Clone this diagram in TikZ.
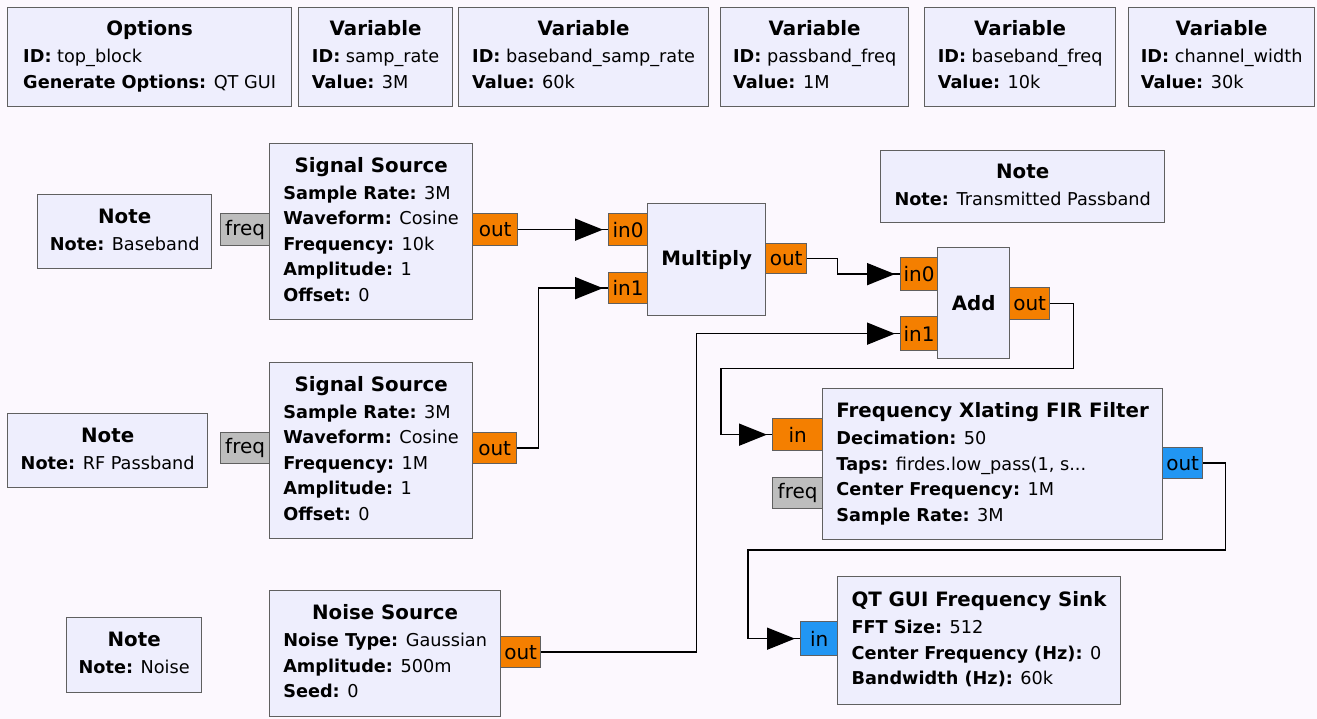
\documentclass[tikz,border=0pt]{standalone}
\usepackage{fontspec}
\setmainfont{DejaVu Sans}
\usepackage{tikz}
\usetikzlibrary{arrows.meta, calc}
\definecolor{canvasbg}{HTML}{FCF8FE}
\definecolor{blkfill}{HTML}{EEEEFD}
\definecolor{blkedge}{HTML}{606060}
\definecolor{portorange}{HTML}{F47F00}
\definecolor{portblue}{HTML}{2196F3}
\definecolor{portgray}{HTML}{BDBDBD}
\newcommand{\grcfont}{\fontsize{17.7}{25.5}\selectfont}
\newcommand{\grctitle}[1]{{\fontsize{19.8}{25.5}\selectfont\textbf{#1}}}
\newcommand{\kv}[2]{\textbf{#1:} #2}
\newcommand{\grcblock}[2]{\begin{tabular}{@{}l@{}}\multicolumn{1}{@{}c@{}}{\grctitle{#1}}\\[1.5pt] #2\end{tabular}}
\tikzset{
  blk/.style={draw=blkedge, line width=1.3pt, fill=blkfill, anchor=north west, inner sep=0pt, align=center, font=\grcfont},
  port/.style={draw=blkedge, line width=1.3pt, anchor=north west, inner sep=0pt, font=\fontsize{20}{24}\selectfont},
  fport/.style={port, fill=portorange},
  cport/.style={port, fill=portblue},
  mport/.style={port, fill=portgray},
  wire/.style={line width=1.5pt, -{Triangle[length=28pt, width=22pt]Rectangle[length=5pt, width=1.5pt, line width=0pt]}},
}
\begin{document}
\begin{tikzpicture}[x=1pt, y=-1pt]
  \fill[canvasbg] (0,0) rectangle (1317,719);
  \useasboundingbox (0,0) rectangle (1317,719);

  % top row: options and variables
  \node[blk, minimum width=284pt, minimum height=99pt] (opts) at (7,7)
    {\grcblock{Options}{\kv{ID}{top\_block}\\ \kv{Generate Options}{QT GUI}}};
  \node[blk, minimum width=154pt, minimum height=99pt] (vsamp) at (298,7)
    {\grcblock{Variable}{\kv{ID}{samp\_rate}\\ \kv{Value}{3M}}};
  \node[blk, minimum width=250pt, minimum height=99pt] (vbbsamp) at (458,7)
    {\grcblock{Variable}{\kv{ID}{baseband\_samp\_rate}\\ \kv{Value}{60k}}};
  \node[blk, minimum width=188pt, minimum height=99pt] (vpbfreq) at (720,7)
    {\grcblock{Variable}{\kv{ID}{passband\_freq}\\ \kv{Value}{1M}}};
  \node[blk, minimum width=191pt, minimum height=99pt] (vbbfreq) at (924,7)
    {\grcblock{Variable}{\kv{ID}{baseband\_freq}\\ \kv{Value}{10k}}};
  \node[blk, minimum width=186pt, minimum height=99pt] (vchan) at (1128,7)
    {\grcblock{Variable}{\kv{ID}{channel\_width}\\ \kv{Value}{30k}}};

  % notes
  \node[blk, minimum width=174pt, minimum height=74pt] (nbase) at (37,194)
    {\grcblock{Note}{\kv{Note}{Baseband}}};
  \node[blk, minimum width=284pt, minimum height=72pt] (ntx) at (880,150)
    {\grcblock{Note}{\kv{Note}{Transmitted Passband}}};
  \node[blk, minimum width=200pt, minimum height=74pt] (nrf) at (7,413)
    {\grcblock{Note}{\kv{Note}{RF Passband}}};
  \node[blk, minimum width=135pt, minimum height=75pt] (nnoise) at (66,617)
    {\grcblock{Note}{\kv{Note}{Noise}}};

  % ports
  \node[mport, minimum width=49pt, minimum height=32pt] (s1freq) at (220,213) {freq};
  \node[fport, minimum width=45pt, minimum height=32pt] (s1out) at (472,213) {out};
  \node[mport, minimum width=49pt, minimum height=31pt] (s2freq) at (220,432) {freq};
  \node[fport, minimum width=44pt, minimum height=31pt] (s2out) at (472,432) {out};
  \node[fport, minimum width=39pt, minimum height=32pt] (mulin0) at (608,213) {in0};
  \node[fport, minimum width=39pt, minimum height=31pt] (mulin1) at (608,272) {in1};
  \node[fport, minimum width=41pt, minimum height=30pt] (mulout) at (765,243) {out};
  \node[fport, minimum width=37pt, minimum height=33pt] (addin0) at (900,257) {in0};
  \node[fport, minimum width=37pt, minimum height=34pt] (addin1) at (900,316) {in1};
  \node[fport, minimum width=40pt, minimum height=32pt] (addout) at (1009,287) {out};
  \node[fport, minimum width=50pt, minimum height=32pt] (firin) at (772,418) {in};
  \node[mport, minimum width=50pt, minimum height=31pt] (firfreq) at (772,477) {freq};
  \node[cport, minimum width=40pt, minimum height=31pt] (firout) at (1162,447) {out};
  \node[cport, minimum width=37pt, minimum height=34pt] (sinkin) at (800,621) {in};
  \node[fport, minimum width=40pt, minimum height=31pt] (noiseout) at (500,636) {out};

  % blocks
  \node[blk, minimum width=203pt, minimum height=176pt] (src1) at (269,143)
    {\grcblock{Signal Source}{\kv{Sample Rate}{3M}\\ \kv{Waveform}{Cosine}\\ \kv{Frequency}{10k}\\ \kv{Amplitude}{1}\\ \kv{Offset}{0}}};
  \node[blk, minimum width=203pt, minimum height=176pt] (src2) at (269,362)
    {\grcblock{Signal Source}{\kv{Sample Rate}{3M}\\ \kv{Waveform}{Cosine}\\ \kv{Frequency}{1M}\\ \kv{Amplitude}{1}\\ \kv{Offset}{0}}};
  \node[blk, minimum width=118pt, minimum height=112pt] (mul) at (647,203) {\grctitle{Multiply}};
  \node[blk, minimum width=72pt, minimum height=111pt] (add) at (937,247) {\grctitle{Add}};
  \node[blk, minimum width=340pt, minimum height=151pt] (fir) at (822,388)
    {\grcblock{Frequency Xlating FIR Filter}{\kv{Decimation}{50}\\ \kv{Taps}{firdes.low\_pass(1, s...}\\ \kv{Center Frequency}{1M}\\ \kv{Sample Rate}{3M}}};
  \node[blk, minimum width=283pt, minimum height=128pt] (sink) at (837,576)
    {\grcblock{QT GUI Frequency Sink}{\kv{FFT Size}{512}\\ \kv{Center Frequency (Hz)}{0}\\ \kv{Bandwidth (Hz)}{60k}}};
  \node[blk, minimum width=231pt, minimum height=126pt] (noise) at (269,590)
    {\grcblock{Noise Source}{\kv{Noise Type}{Gaussian}\\ \kv{Amplitude}{500m}\\ \kv{Seed}{0}}};

  % connections
  \draw[wire] (s1out.east) -- (mulin0.west);
  \draw[wire] (s2out.east) -- ++(21,0) |- (mulin1.west);
  \draw[wire] (mulout.east) -- ++(30,0) |- (addin0.west);
  \draw[wire] (noiseout.east) -- ++(155,0) |- (addin1.west);
  \draw[wire] (addout.east) -- ++(23,0) -- ++(0,65) -| ([xshift=-51pt]firin.west) -- (firin.west);
  \draw[wire] (firout.east) -- ++(22,0) -- ++(0,87) -| ([xshift=-52pt]sinkin.west) -- (sinkin.west);
\end{tikzpicture}
\end{document}
